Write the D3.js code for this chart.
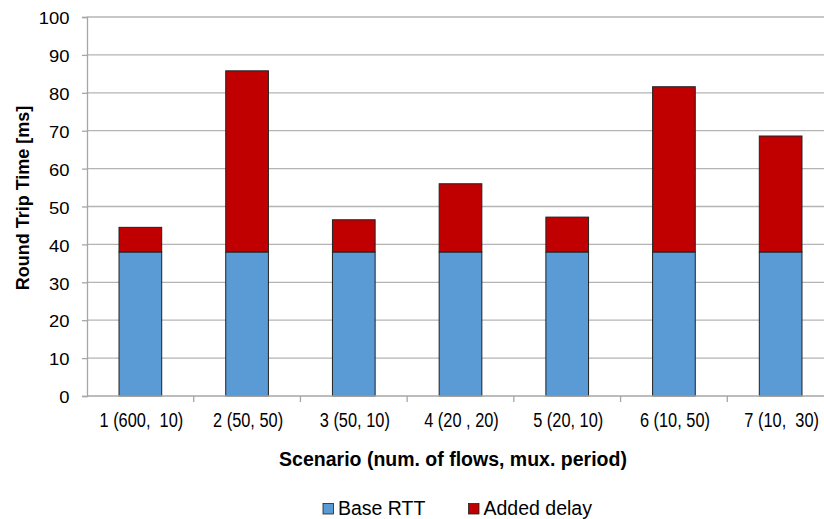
<!DOCTYPE html>
<html lang="en">
<head>
    <meta charset="UTF-8">
    <title>Round Trip Time per Scenario</title>
    <script src="https://d3js.org/d3.v7.min.js"></script>
    <style>
        body {
            margin: 0;
            background: white;
            overflow: hidden;
        }
        svg {
            display: block;
            font-family: "Liberation Sans", Arial, sans-serif;
        }
    </style>
</head>
<body>
<script>
    // Chart data
    const scenarios = ["1 (600,  10)", "2 (50, 50)", "3 (50, 10)", "4 (20 , 20)", "5 (20, 10)", "6 (10, 50)", "7 (10,  30)"];
    const baseRtt = [38, 38, 38, 38, 38, 38, 38];
    const addedDelay = [6.5, 47.8, 8.5, 18, 9.2, 43.6, 30.6];
    const yTicks = [0, 10, 20, 30, 40, 50, 60, 70, 80, 90, 100];
    const seriesNames = ["Base RTT", "Added delay"];
    const seriesColors = ["#5B9BD5", "#C00000"];

    const width = 824;
    const height = 519;
    const margin = {top: 17, left: 87, bottom: 123};
    const plotW = 747; // plot runs a bit past the right edge, like the original
    const plotH = height - margin.top - margin.bottom;

    const svg = d3.select("body")
        .append("svg")
        .attr("width", width)
        .attr("height", height);

    const g = svg.append("g")
        .attr("transform", `translate(${margin.left},${margin.top})`);

    const x = d3.scaleBand()
        .domain(scenarios)
        .range([0, plotW])
        .paddingInner(0.6)
        .paddingOuter(0.3);

    const y = d3.scaleLinear()
        .domain([0, 100])
        .range([plotH, 0]);

    // gridlines
    g.append("g")
        .selectAll("line")
        .data(yTicks.filter(d => d > 0))
        .enter()
        .append("line")
        .attr("x1", 0)
        .attr("x2", width)
        .attr("y1", d => y(d))
        .attr("y2", d => y(d))
        .attr("stroke", "#b4b4b4")
        .attr("stroke-width", 1.3);

    // y axis
    const yAxis = g.append("g")
        .call(d3.axisLeft(y).tickValues(yTicks).tickSize(5).tickPadding(0));
    yAxis.select(".domain").attr("stroke", "#a6a6a6").attr("stroke-width", 1.3);
    yAxis.selectAll(".tick line").attr("stroke", "#a6a6a6").attr("stroke-width", 1.3);
    yAxis.selectAll(".tick text")
        .attr("x", 0)
        .attr("dy", "0.36em")
        .attr("transform", "translate(-17.5,1) scale(1.15,1)")
        .attr("fill", "#000")
        .style("font-size", "16px")
        .style("font-family", "'Liberation Sans', Arial, sans-serif");

    // stacked bars
    const stacked = scenarios.map((s, i) => [
        {key: 0, y0: 0, y1: baseRtt[i], cat: s},
        {key: 1, y0: baseRtt[i], y1: baseRtt[i] + addedDelay[i], cat: s}
    ]);

    g.append("g")
        .selectAll("g")
        .data(stacked)
        .enter()
        .append("g")
        .selectAll("rect")
        .data(d => d)
        .enter()
        .append("rect")
        .attr("x", d => x(d.cat))
        .attr("width", x.bandwidth())
        .attr("y", d => y(d.y1))
        .attr("height", d => y(d.y0) - y(d.y1))
        .attr("fill", d => seriesColors[d.key])
        .attr("stroke", "#222")
        .attr("stroke-width", 1);

    // x axis line + category boundary ticks
    g.append("line")
        .attr("x1", 0)
        .attr("x2", width)
        .attr("y1", plotH)
        .attr("y2", plotH)
        .attr("stroke", "#a6a6a6")
        .attr("stroke-width", 1.3);

    const bounds = scenarios.slice(1).map(s => x(s) + x.bandwidth() / 2 - x.step() / 2);
    g.append("g")
        .selectAll("line")
        .data(bounds)
        .enter()
        .append("line")
        .attr("x1", d => d)
        .attr("x2", d => d)
        .attr("y1", plotH)
        .attr("y2", plotH + 6)
        .attr("stroke", "#a6a6a6")
        .attr("stroke-width", 1.3);

    // condensed-looking category labels (keep the double spaces)
    g.append("g")
        .selectAll("text")
        .data(scenarios)
        .enter()
        .append("text")
        .attr("transform", d => `translate(${x(d) + x.bandwidth() / 2 + 1},${plotH + 31}) scale(0.84,1)`)
        .attr("text-anchor", "middle")
        .attr("xml:space", "preserve")
        .style("white-space", "pre")
        .style("font-size", "19.5px")
        .text(d => d);

    // axis titles
    svg.append("text")
        .attr("x", 453)
        .attr("y", 466)
        .attr("text-anchor", "middle")
        .style("font-weight", "bold")
        .style("font-size", "19.5px")
        .text("Scenario (num. of flows, mux. period)");

    svg.append("text")
        .attr("transform", "translate(29,198) rotate(-90)")
        .attr("text-anchor", "middle")
        .style("font-weight", "bold")
        .style("font-size", "18px")
        .text("Round Trip Time [ms]");

    // legend
    const legendX = [323, 468.5];
    const legend = svg.append("g")
        .selectAll("g")
        .data(seriesNames)
        .enter()
        .append("g")
        .attr("transform", (d, i) => `translate(${legendX[i]},503.5)`);

    legend.append("rect")
        .attr("width", 10.5)
        .attr("height", 10.5)
        .attr("fill", (d, i) => seriesColors[i])
        .attr("stroke", "#222")
        .attr("stroke-width", 0.8);

    legend.append("text")
        .attr("x", 15)
        .attr("y", 11.5)
        .style("font-size", "19.5px")
        .text(d => d);
</script>
</body>
</html>
